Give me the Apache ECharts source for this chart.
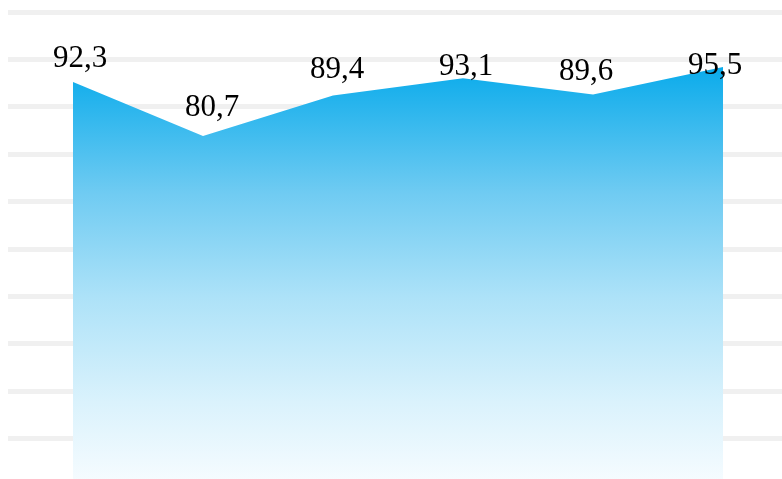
<!DOCTYPE html>
<html>
<head>
<meta charset="utf-8">
<script src="https://cdn.jsdelivr.net/npm/echarts@6/dist/echarts.min.js"></script>
<style>
  html, body { margin: 0; padding: 0; background: #fff; }
  #main { width: 782px; height: 479px; }
</style>
</head>
<body>
<div id="main"></div>
<script>
// data
const categories = ['1', '2', '3', '4', '5', '6'];
const values = [92.3, 80.7, 89.4, 93.1, 89.6, 95.5];
// label nudges [dx, dy] to match the original placement
const labelOffsets = [[7, -8], [9, -13], [4, -10], [3, 4], [-7, -7], [-8, 14]];

const chart = echarts.init(document.getElementById('main'), null, { renderer: 'canvas' });

const option = {
  animation: false,
  grid: { left: 8, top: 12, right: -6, bottom: -6.6, outerBoundsMode: 'none' },
  xAxis: {
    type: 'category',
    data: categories,
    boundaryGap: true,
    show: false
  },
  yAxis: [
    {
      // value axis for the area
      type: 'value',
      min: 5.7,
      max: 107.3,
      show: false
    },
    {
      // background stripes
      type: 'value',
      min: 0,
      max: 10,
      interval: 1,
      axisLine: { show: false },
      axisTick: { show: false },
      axisLabel: { show: false },
      splitLine: { show: true, lineStyle: { color: '#f0f0f0', width: 5 } }
    }
  ],
  series: [{
    type: 'line',
    yAxisIndex: 0,
    data: values.map((v, i) => ({
      value: v,
      label: { offset: labelOffsets[i] }
    })),
    symbol: 'circle',
    symbolSize: 0,
    showSymbol: true,
    lineStyle: { width: 0 },
    itemStyle: { color: 'transparent' },
    areaStyle: {
      opacity: 1,
      color: new echarts.graphic.LinearGradient(0, 0, 0, 1, [
        { offset: 0, color: '#0aabeb' },
        { offset: 0.3, color: '#6fcbf2' },
        { offset: 0.55, color: '#ade2f8' },
        { offset: 0.8, color: '#daf2fc' },
        { offset: 1, color: '#f7fcff' }
      ])
    },
    label: {
      show: true,
      position: 'top',
      distance: 0,
      fontFamily: 'Liberation Serif',
      fontSize: 31,
      color: '#000',
      formatter: p => String(p.value).replace('.', ',')
    }
  }]
};

chart.setOption(option);
</script>
</body>
</html>
